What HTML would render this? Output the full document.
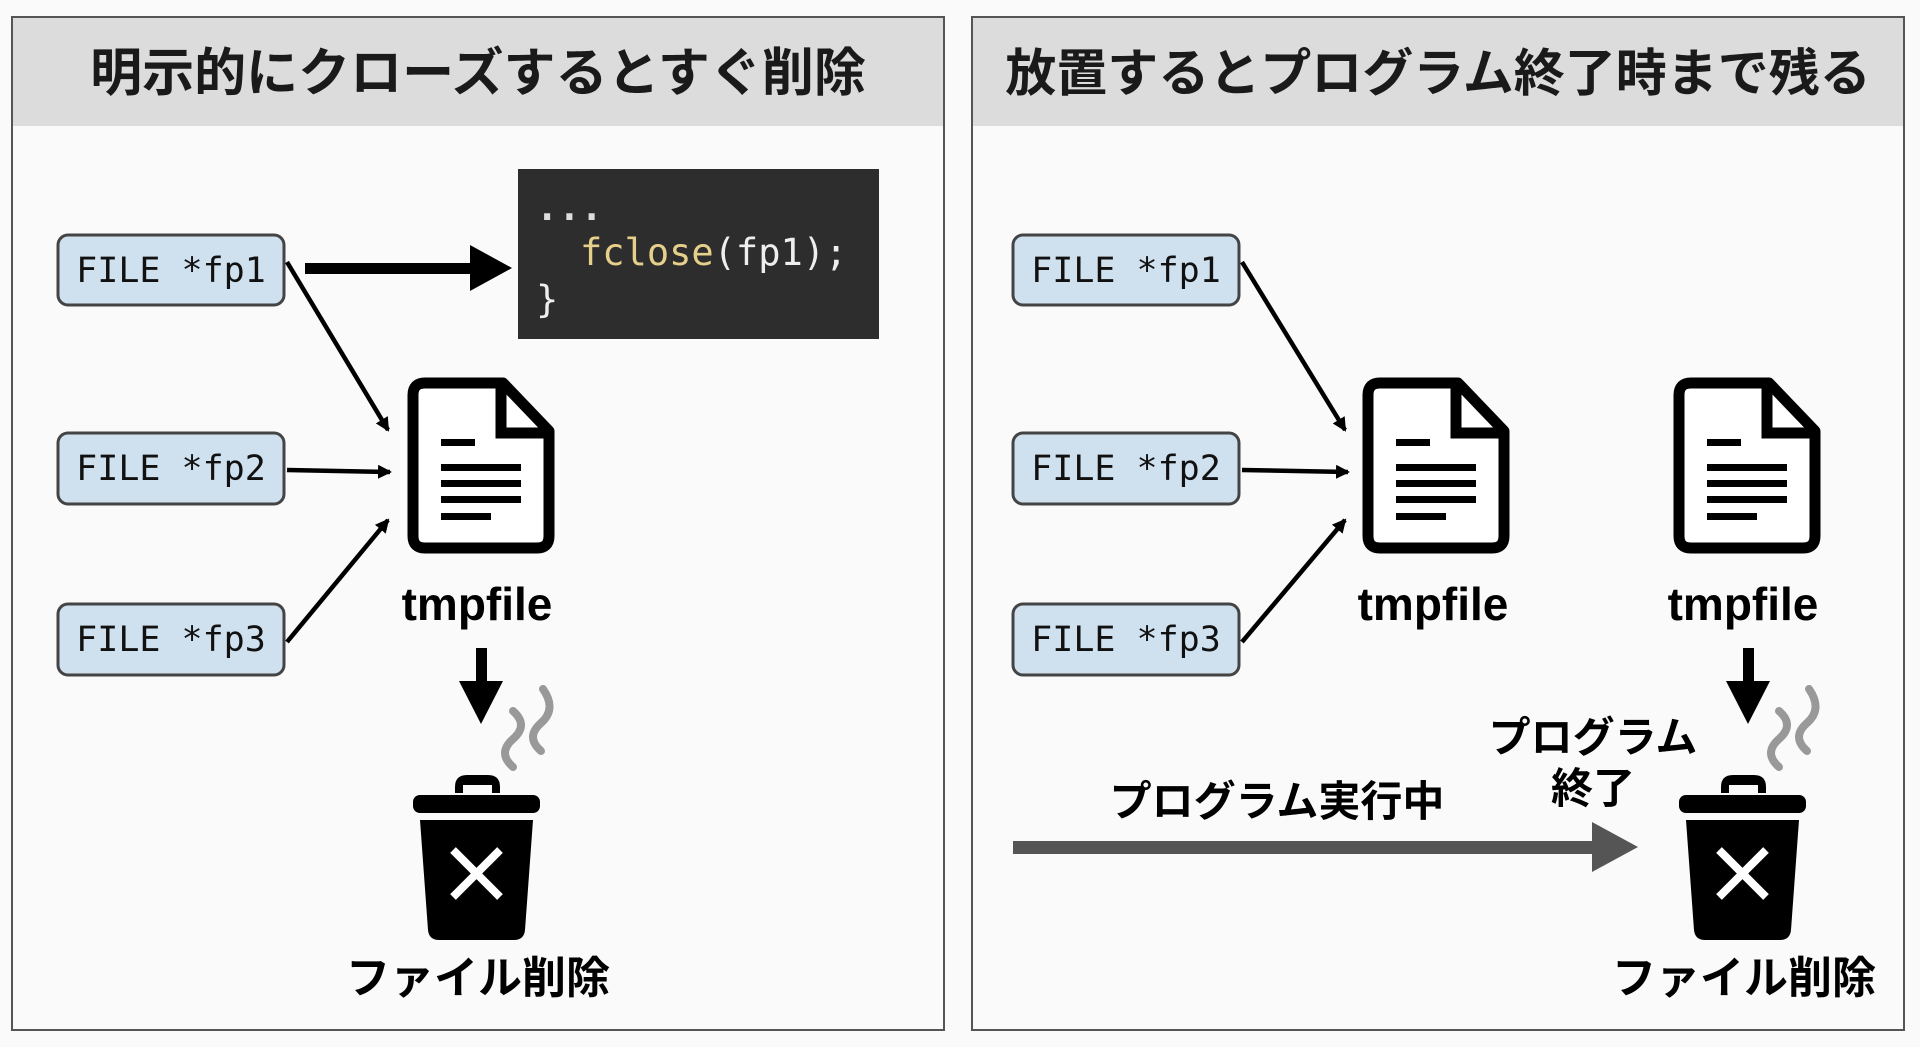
<!DOCTYPE html>
<html><head><meta charset="utf-8"><style>
html,body{margin:0;padding:0;background:#fafafa;}
svg{display:block;}
.jp{font-family:"Liberation Sans","Noto Sans CJK JP",sans-serif;font-weight:bold;}
.mono{font-family:"DejaVu Sans Mono","Liberation Mono",monospace;}
.tf{font-family:"Liberation Sans",sans-serif;font-weight:bold;}
</style></head><body>
<svg width="1920" height="1047" viewBox="0 0 1920 1047" xmlns="http://www.w3.org/2000/svg">
<defs>
<marker id="ah" markerWidth="14" markerHeight="14" refX="12" refY="7" orient="auto" markerUnits="userSpaceOnUse" viewBox="0 0 14 14"><path d="M0,0 L14,7 L0,14z" fill="#000"/></marker>
<g id="doc">
<path d="M12,0 H90 L136,48 V153 Q136,165 124,165 H12 Q0,165 0,153 V12 Q0,0 12,0z" fill="#fff" stroke="#000" stroke-width="11" stroke-linejoin="round"/>
<path d="M88,2 V50 H134" fill="none" stroke="#000" stroke-width="11"/>
<rect x="28" y="56" width="34" height="7"/>
<rect x="28" y="81" width="80" height="7"/>
<rect x="28" y="97" width="80" height="7"/>
<rect x="28" y="113" width="80" height="7"/>
<rect x="28" y="130" width="50" height="7"/>
</g>
<g id="trash">
<path d="M87,12 Q87,0 75,0 H54 Q42,0 42,12 V18 H50 V10 H79 V18 H87z" fill="#000"/>
<rect x="0" y="20" width="127" height="18" rx="7" fill="#000"/>
<path d="M7,45 H120 L112,155 Q111,165 101,165 H26 Q16,165 15,155z" fill="#000"/>
<path d="M40,75 L87,122 M87,75 L40,122" stroke="#fff" stroke-width="8"/>
<path d="M100,-8 Q84,-22 100,-36 Q116,-50 100,-64 M128,-24 Q112,-38 128,-52 Q144,-66 130,-86" fill="none" stroke="#999" stroke-width="8" stroke-linecap="round"/>
</g>
<g id="down"><rect x="-5" y="0" width="11" height="38"/><path d="M-22,33 L22,33 L0,76z"/></g>
</defs>

<!-- Left panel -->
<rect x="12" y="17" width="932" height="1013" fill="#fafafa" stroke="#555" stroke-width="2"/>
<rect x="13" y="18" width="930" height="108" fill="#dcdcdc"/>
<text x="478" y="91" text-anchor="middle" class="jp" font-size="52" fill="#1a1a1a">明示的にクローズするとすぐ削除</text>

<g class="mono" font-size="35" fill="#111">
<rect x="58" y="235" width="226" height="70" rx="10" fill="#cfe0ee" stroke="#444" stroke-width="3"/>
<text x="171" y="282" text-anchor="middle">FILE *fp1</text>
<rect x="58" y="433" width="226" height="71" rx="10" fill="#cfe0ee" stroke="#444" stroke-width="3"/>
<text x="171" y="480" text-anchor="middle">FILE *fp2</text>
<rect x="58" y="604" width="226" height="71" rx="10" fill="#cfe0ee" stroke="#444" stroke-width="3"/>
<text x="171" y="651" text-anchor="middle">FILE *fp3</text>
</g>

<rect x="518" y="169" width="361" height="170" fill="#2d2d2d"/>
<g class="mono" font-size="37">
<text x="536" y="220" fill="#ddd" font-weight="bold">...</text>
<text x="580" y="265" fill="#e6cf8a">fclose<tspan fill="#eee">(fp1);</tspan></text>
<text x="536" y="312" fill="#eee">}</text>
</g>
<rect x="305" y="263" width="170" height="11" fill="#000"/>
<path d="M470,245 L512,268 L470,291z" fill="#000"/>

<g stroke="#000" stroke-width="4.5" marker-end="url(#ah)">
<line x1="287" y1="262" x2="388" y2="430"/>
<line x1="287" y1="470" x2="390" y2="472"/>
<line x1="287" y1="642" x2="388" y2="520"/>
</g>
<use href="#doc" x="413" y="383"/>
<text x="477" y="620" text-anchor="middle" class="tf" font-size="46">tmpfile</text>
<use href="#down" x="481" y="648"/>
<use href="#trash" x="413" y="775"/>
<text x="478" y="993" text-anchor="middle" class="jp" font-size="44">ファイル削除</text>

<!-- Right panel -->
<rect x="972" y="17" width="932" height="1013" fill="#fafafa" stroke="#555" stroke-width="2"/>
<rect x="973" y="18" width="930" height="108" fill="#dcdcdc"/>
<text x="1438" y="91" text-anchor="middle" class="jp" font-size="51" fill="#1a1a1a">放置するとプログラム終了時まで残る</text>

<g class="mono" font-size="35" fill="#111">
<rect x="1013" y="235" width="226" height="70" rx="10" fill="#cfe0ee" stroke="#444" stroke-width="3"/>
<text x="1126" y="282" text-anchor="middle">FILE *fp1</text>
<rect x="1013" y="433" width="226" height="71" rx="10" fill="#cfe0ee" stroke="#444" stroke-width="3"/>
<text x="1126" y="480" text-anchor="middle">FILE *fp2</text>
<rect x="1013" y="604" width="226" height="71" rx="10" fill="#cfe0ee" stroke="#444" stroke-width="3"/>
<text x="1126" y="651" text-anchor="middle">FILE *fp3</text>
</g>
<g stroke="#000" stroke-width="4.5" marker-end="url(#ah)">
<line x1="1242" y1="262" x2="1345" y2="430"/>
<line x1="1242" y1="470" x2="1348" y2="472"/>
<line x1="1242" y1="642" x2="1345" y2="520"/>
</g>
<use href="#doc" x="1368" y="383"/>
<text x="1433" y="620" text-anchor="middle" class="tf" font-size="46">tmpfile</text>
<use href="#doc" x="1679" y="383"/>
<text x="1743" y="620" text-anchor="middle" class="tf" font-size="46">tmpfile</text>
<use href="#down" x="1748" y="648"/>
<use href="#trash" x="1679" y="775"/>
<text x="1744" y="993" text-anchor="middle" class="jp" font-size="44">ファイル削除</text>

<text x="1277" y="816" text-anchor="middle" class="jp" font-size="42">プログラム実行中</text>
<text x="1593" y="752" text-anchor="middle" class="jp" font-size="42">プログラム</text>
<text x="1593" y="803" text-anchor="middle" class="jp" font-size="42">終了</text>
<rect x="1013" y="841" width="585" height="13" fill="#555"/>
<path d="M1592,822 L1638,847 L1592,872z" fill="#555"/>
</svg>
</body></html>
